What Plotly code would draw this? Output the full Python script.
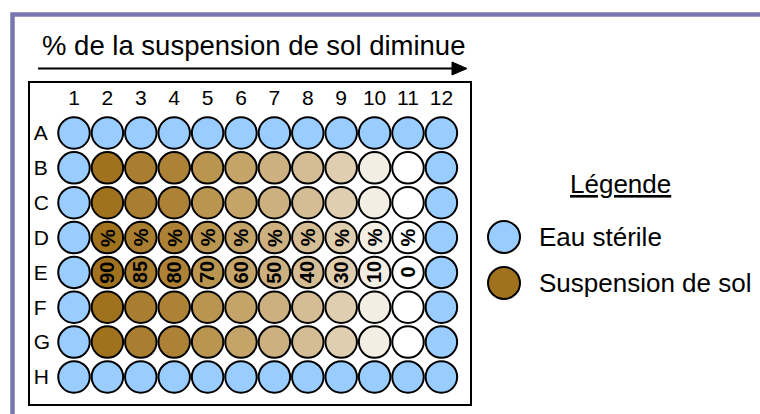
import plotly.graph_objects as go

W, H = 760, 414

# plate layout
rows = ["A", "B", "C", "D", "E", "F", "G", "H"]
cols = list(range(1, 13))
soil_pct = [90, 85, 80, 70, 60, 50, 40, 30, 10, 0]  # columns 2..11
soil_colors = ["#A0721E", "#AA7E30", "#AD8236", "#B9954F", "#C4A468",
               "#CCB07F", "#D4BD94", "#DFCEAF", "#F2EEE3", "#FFFFFF"]
water_color = "#99CCFF"

legend_labels = ["Eau stérile", "Suspension de sol"]
legend_colors = [water_color, soil_colors[0]]
title = "% de la suspension de sol diminue"


def px(x):
    return x / W


def py(y):
    return 1 - y / H


# wells
xs, ys, fills = [], [], []
for r, row in enumerate(rows):
    for c in cols:
        if row in ("A", "H") or c in (1, 12):
            fill = water_color
        else:
            fill = soil_colors[c - 2]
        xs.append(c)
        ys.append(r)
        fills.append(fill)

fig = go.Figure()

fig.add_trace(go.Scatter(
    x=xs, y=ys, mode="markers", xaxis="x2", yaxis="y2",
    marker=dict(size=31.5, color=fills, line=dict(color="black", width=2)),
    hoverinfo="skip", showlegend=False,
))

# legend markers (pixel axis)
fig.add_trace(go.Scatter(
    x=[504, 504], y=[237, 283], mode="markers",
    marker=dict(size=32, color=legend_colors, line=dict(color="black", width=2)),
    hoverinfo="skip", showlegend=False,
))

annotations = []
lab_font = dict(family="Arial", size=20, color="black")
for i, p in enumerate(soil_pct):
    c = i + 2
    annotations.append(dict(x=c, y=3, xref="x2", yref="y2", text="<b>%</b>",
                            textangle=-90, showarrow=False, font=lab_font))
    annotations.append(dict(x=c, y=4, xref="x2", yref="y2", text=f"<b>{p}</b>",
                            textangle=-90, showarrow=False, font=lab_font))

annotations.append(dict(x=px(40), y=py(45), xref="paper", yref="paper",
                        text=title, xanchor="left", yanchor="middle", showarrow=False,
                        font=dict(family="Arial", size=27.5, color="black")))
annotations.append(dict(x=620, y=184, xref="x", yref="y", text="<u>Légende</u>",
                        showarrow=False, font=dict(family="Arial", size=26, color="black")))
for lab, yy in zip(legend_labels, [237, 283]):
    annotations.append(dict(x=537, y=yy, xref="x", yref="y", text=lab, xanchor="left",
                            showarrow=False, font=dict(family="Arial", size=26, color="black")))

shapes = [
    # outer frame (cropped at right and bottom)
    dict(type="rect", xref="paper", yref="paper", x0=px(12.5), y0=py(14.5), x1=1.2, y1=-0.2,
         line=dict(color="#7878B0", width=4.5), layer="below"),
    # arrow
    dict(type="line", xref="x", yref="y", x0=38, y0=68.5, x1=454, y1=68.5,
         line=dict(color="black", width=2)),
    dict(type="path", xref="x", yref="y", path="M 452 62 L 467 68.5 L 452 75 Z",
         fillcolor="black", line=dict(color="black", width=1)),
]

col0, colstep = 74, 33.4
row0, rowstep = 133, 34.85
bx0, bx1, by0, by1 = 30, 470, 83, 404

fig.update_layout(
    width=W, height=H,
    margin=dict(l=0, r=0, t=0, b=0),
    paper_bgcolor="white", plot_bgcolor="rgba(0,0,0,0)",
    xaxis=dict(range=[0, W], domain=[0, 1], visible=False, fixedrange=True),
    yaxis=dict(range=[H, 0], domain=[0, 1], visible=False, fixedrange=True),
    xaxis2=dict(domain=[px(bx0), px(bx1)], anchor="y2", side="top",
                range=[1 + (bx0 - col0) / colstep, 1 + (bx1 - col0) / colstep],
                tickvals=cols, ticktext=[str(c) for c in cols],
                ticklabelposition="inside", ticklabeloverflow="allow",
                ticklabelstandoff=9,
                ticks="", showgrid=False, zeroline=False,
                showline=True, mirror=True, linecolor="black", linewidth=2,
                tickfont=dict(family="Arial", size=21, color="black")),
    yaxis2=dict(domain=[py(by1), py(by0)], anchor="x2",
                range=[(by1 - row0) / rowstep, (by0 - row0) / rowstep],
                tickvals=list(range(len(rows))), ticktext=rows,
                ticklabelposition="inside", ticklabeloverflow="allow",
                ticklabelstandoff=5,
                ticks="", showgrid=False, zeroline=False,
                showline=True, mirror=True, linecolor="black", linewidth=2,
                tickfont=dict(family="Arial", size=21, color="black")),
    annotations=annotations,
    shapes=shapes,
)

fig.write_html("out.html", config={"displayModeBar": False},
               post_script="document.body.style.margin='0';")
